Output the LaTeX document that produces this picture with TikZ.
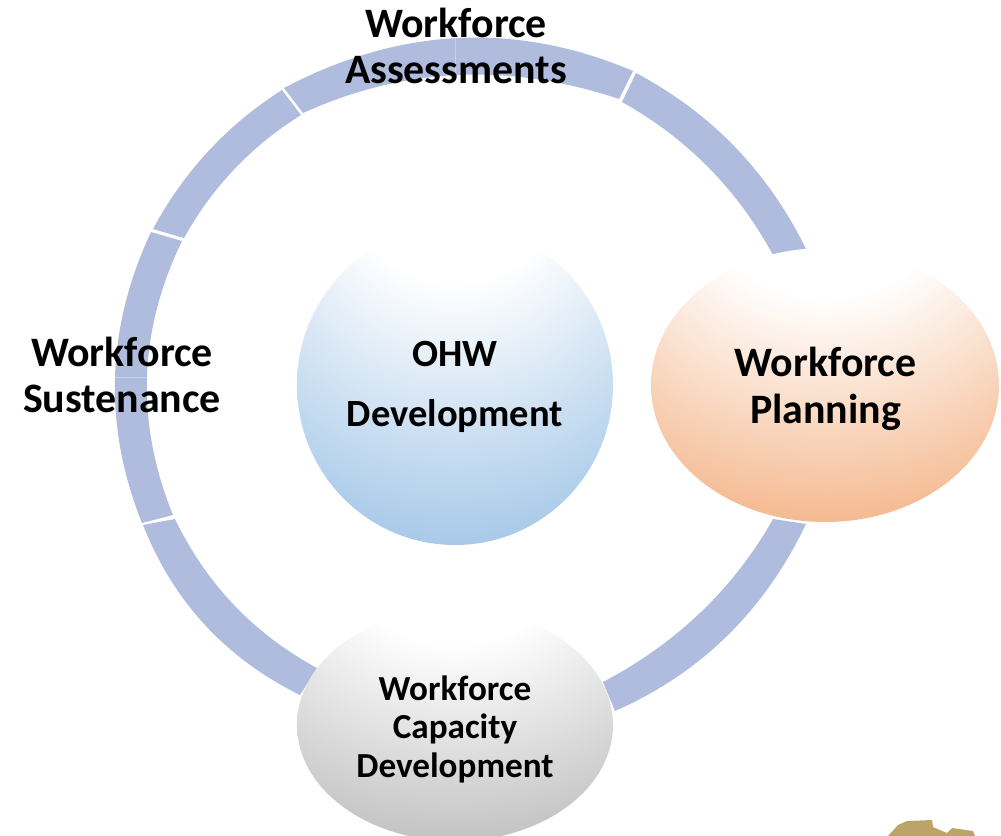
\documentclass[tikz,border=0pt]{standalone}
\usepackage{fontspec}
\setmainfont{Carlito}
\usepackage{xcolor}
\usetikzlibrary{shapes.geometric, calc}
\definecolor{ringblue}{HTML}{AFBCDE}
\definecolor{logotan}{HTML}{BCA468}
\definecolor{ballblue}{HTML}{A9CAE9}
\definecolor{ballorange}{HTML}{F5BB93}
\definecolor{ballgrey}{HTML}{C2C2C2}
\pgfdeclareradialshading{blueball}{\pgfpoint{0bp}{40bp}}{color(0bp)=(white); color(17bp)=(white); color(46bp)=(ballblue); color(100bp)=(ballblue)}
\pgfdeclareradialshading{orangeball}{\pgfpoint{0bp}{40bp}}{color(0bp)=(white); color(17bp)=(white); color(46bp)=(ballorange); color(100bp)=(ballorange)}
\pgfdeclareradialshading{greyball}{\pgfpoint{0bp}{40bp}}{color(0bp)=(white); color(16bp)=(white); color(47bp)=(ballgrey); color(100bp)=(ballgrey)}
\tikzset{
  ringseg/.style={fill=ringblue, draw=none},
  seam/.style={draw=white, draw opacity=0.3, line width=0.3pt},
  ball/.style={ellipse, draw=none, shade, inner sep=0pt},
  bigtext/.style={font=\fontsize{29.8}{32.6}\selectfont\bfseries, align=center, inner sep=0pt},
}
% one arc through a,m,b as a bezier (helper for the ring)
\newcommand{\arcthrough}[3]{.. controls ($1.3333*#2-0.3333*#3$) and ($1.3333*#2-0.3333*#1$) .. #3}
% ring piece: outer curve, then inner curve coming back
\newcommand{\ringpiece}[6]{\fill[ringseg] #1 \arcthrough{#1}{#2}{#3} -- #6 \arcthrough{#6}{#5}{#4} -- cycle;}

\begin{document}
\begin{tikzpicture}[x=0.025cm, y=-0.025cm]
  \useasboundingbox (0,0) rectangle (1001,836);

  % ring
  \ringpiece{(284,88)}{(458,38)}{(633,71)}{(303,113)}{(458,75)}{(619,99)}
  \ringpiece{(636,73)}{(735,147)}{(806,249)}{(622,102)}{(708.5,167.5)}{(773,255)}
  \ringpiece{(806,524)}{(727,636)}{(615,711)}{(773,519)}{(701,612)}{(603,682)}
  \ringpiece{(143,525)}{(205,625)}{(300,695)}{(175,519)}{(234,605)}{(317,668)}
  \ringpiece{(151,232)}{(115,377)}{(142,523)}{(182,241)}{(147,377)}{(173,515)}
  \ringpiece{(153,229)}{(208.5,151)}{(282,90)}{(184,238)}{(234.5,169)}{(301,115)}
  \draw[seam] (455,38) -- (455,75);
  \draw[seam] (115,377) -- (147,377);

  \node[ball, shading=blueball, minimum width=316*0.025cm, minimum height=320*0.025cm] (ohw) at (455,385) {};
  \node[ball, shading=orangeball, minimum width=348*0.025cm, minimum height=274*0.025cm] (planning) at (825,385) {};
  \node[ball, shading=greyball, minimum width=316*0.025cm, minimum height=232*0.025cm] (capacity) at (455,725) {};

  \node[font=\fontsize{27.4}{42.7}\selectfont\bfseries, align=center, inner sep=0pt] (ohwtext) at (455,387) {OHW\\Development};
  \node[bigtext, font=\fontsize{29.8}{33.4}\selectfont\bfseries] (planningtext) at (825.5,389) {Workforce\\Planning};
  \node[font=\fontsize{25}{27.4}\selectfont\bfseries, align=center, inner sep=0pt] (capacitytext) at (455,729) {Workforce\\Capacity\\Development};

  \node[bigtext] (assess) at (456,46) {Workforce\\Assessments};
  \node[bigtext] (sustain) at (122,375) {Workforce\\Sustenance};

  % logo corner
  \fill[logotan] (888,836) -- (898,825) -- (907,821) -- (932,820) -- (933,827) -- (947,833)
    -- (952,828) -- (973,831) -- (975,836) -- cycle;
\end{tikzpicture}
\end{document}
